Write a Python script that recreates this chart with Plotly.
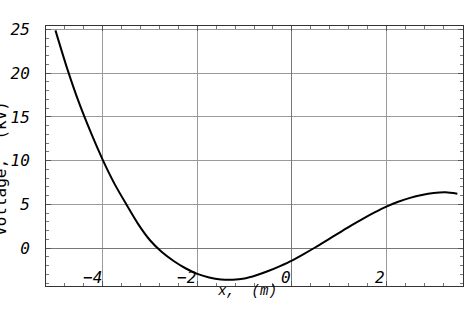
import plotly.graph_objects as go

x_vals = [-5.0, -4.75, -4.5, -4.25, -4.0, -3.75, -3.5, -3.25, -3.0, -2.75, -2.5, -2.25,
          -2.0, -1.75, -1.5, -1.25, -1.0, -0.75, -0.5, -0.25, 0.0, 0.25, 0.5, 0.75,
          1.0, 1.25, 1.5, 1.75, 2.0, 2.25, 2.5, 2.75, 3.0, 3.25, 3.5]
voltage_kv = [24.9, 20.5, 16.6, 13.2, 10.1, 7.35, 5.0, 2.75, 0.9, -0.45, -1.47, -2.3,
              -2.95, -3.35, -3.58, -3.62, -3.47, -3.1, -2.62, -2.05, -1.42, -0.68, 0.1, 0.92,
              1.75, 2.57, 3.35, 4.08, 4.75, 5.3, 5.75, 6.08, 6.3, 6.38, 6.22]

x_ticks = [-4, -2, 0, 2]
x_tick_labels = ["\u22124", "\u22122", "0", "2"]
y_ticks = [0, 5, 10, 15, 20, 25]
y_tick_labels = ["0", "5", "10", "15", "20", "25"]

mono = "DejaVu Sans Mono"
courier = "Liberation Mono"

fig = go.Figure()
fig.add_trace(go.Scatter(x=x_vals, y=voltage_kv, mode="lines",
                         line=dict(color="black", width=2, shape="spline", smoothing=0.8),
                         showlegend=False))

for xv, lab in zip(x_ticks, x_tick_labels):
    fig.add_annotation(x=xv, y=0, xref="x", yref="paper", text=lab, showarrow=False,
                       xanchor="right", yanchor="bottom", xshift=1, yshift=-3,
                       font=dict(family=mono, size=16, color="black", style="italic"))

fig.add_annotation(x=0.481, y=0, xref="paper", yref="paper", text="x,  (m)", showarrow=False,
                   xanchor="center", yanchor="top", yshift=5,
                   font=dict(family=courier, size=14, color="black", style="italic"))
fig.add_annotation(x=-0.108, y=0.454, xref="paper", yref="paper", text="Voltage,  (kV)",
                   showarrow=False, textangle=-90, xanchor="center", yanchor="middle",
                   font=dict(family=mono, size=16, color="black"))

fig.update_layout(
    width=468, height=318,
    margin=dict(l=46, r=5, t=26, b=32),
    paper_bgcolor="white", plot_bgcolor="white",
    xaxis=dict(range=[-5.2, 3.62], tickvals=x_ticks, showticklabels=False,
               showgrid=True, gridcolor="#9a9a9a", gridwidth=1,
               zeroline=True, zerolinecolor="#777777", zerolinewidth=1,
               showline=True, linecolor="#333333", linewidth=1, mirror="allticks",
               ticks="inside", ticklen=5, tickcolor="#555555",
               minor=dict(dtick=0.4, tick0=0, ticks="inside", ticklen=3, tickcolor="#777777",
                          showgrid=False)),
    yaxis=dict(range=[-4.33, 25.4], tickvals=y_ticks, ticktext=y_tick_labels,
               tickfont=dict(family=mono, size=16, color="black", style="italic"),
               ticklabelstandoff=12,
               showgrid=True, gridcolor="#9a9a9a", gridwidth=1,
               zeroline=True, zerolinecolor="#777777", zerolinewidth=1,
               showline=True, linecolor="#333333", linewidth=1, mirror="allticks",
               ticks="inside", ticklen=5, tickcolor="#555555",
               minor=dict(dtick=1, tick0=0, ticks="inside", ticklen=3, tickcolor="#777777",
                          showgrid=False)),
)

fig.write_html("out.html")
